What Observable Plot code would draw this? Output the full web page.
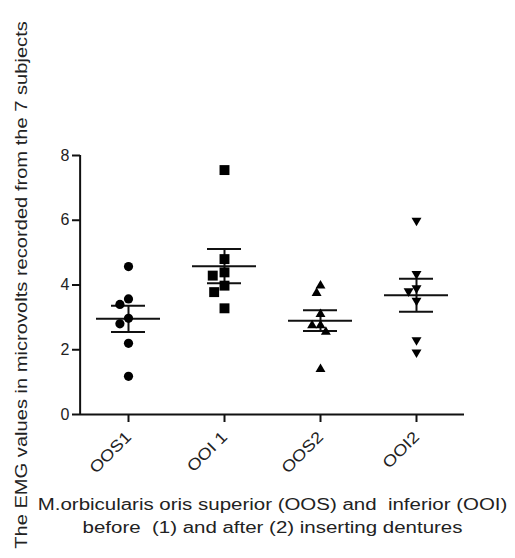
<!DOCTYPE html>
<html><head><meta charset="utf-8">
<script src="https://cdn.jsdelivr.net/npm/d3@7"></script>
<script src="https://cdn.jsdelivr.net/npm/@observablehq/plot@0.6"></script>
<style>html,body{margin:0;padding:0;background:#fff}</style>
</head><body><div id="chart"></div>
<script>
// ---- data ----
const groups = ["OOS1", "OOI 1", "OOS2", "OOI2"];
const oos1 = [4.57, 3.57, 3.40, 2.97, 2.80, 2.20, 1.18];
const ooi1 = [7.55, 4.80, 4.39, 4.29, 3.98, 3.78, 3.28];
const oos2 = [3.98, 3.75, 3.10, 2.75, 2.75, 2.55, 1.40];
const ooi2 = [5.99, 4.34, 3.90, 3.81, 3.52, 2.30, 1.92];
const yTicks = [0, 2, 4, 6, 8];
const yLabel = "The EMG values in microvolts recorded from the 7 subjects";
const xLabel = "M.orbicularis oris superior (OOS) and  inferior (OOI)\nbefore  (1) and after (2) inserting dentures";

const series = [oos1, ooi1, oos2, ooi2];
const stats = groups.map((g, i) => {
  const m = d3.mean(series[i]);
  const se = d3.deviation(series[i]) / Math.sqrt(series[i].length);
  return {group: g, mean: m, lo: m - se, hi: m + se};
});

const invTriangle = {
  draw(context, size) {
    const y = -Math.sqrt(size / (Math.sqrt(3) * 3));
    context.moveTo(0, -y * 2);
    context.lineTo(-Math.sqrt(3) * y, y);
    context.lineTo(Math.sqrt(3) * y, y);
    context.closePath();
  }
};
const symbols = ["circle", "square", "triangle", invTriangle];
const radii = [4.6, 5.6, 3.7, 3.7];

const W = 515, H = 558, mL = 78, mR = 50, mT = 155, mB = 144;
const band = (W - mL - mR) / groups.length;
const font = "'Liberation Sans', Arial, Helvetica, sans-serif";

const dots = groups.map((g, i) => Plot.dot(
  series[i].map(v => ({group: g, value: v})),
  Plot.dodgeX("middle", {fx: "group", y: "value", r: radii[i], symbol: symbols[i], fill: "#000", stroke: "none", padding: 1.5})
));

const chart = Plot.plot({
  width: W, height: H,
  marginLeft: mL, marginRight: mR, marginTop: mT, marginBottom: mB,
  style: {fontFamily: font, fontSize: "16px", color: "#111", background: "#fff"},
  fx: {domain: groups, padding: 0, label: null},
  y: {domain: [0, 8], label: null},
  marks: [
    Plot.axisY({ticks: yTicks, tickSize: 8, tickPadding: 3, strokeWidth: 2, fontSize: 16, fill: "#222", label: null}),
    Plot.axisFx({anchor: "bottom", tickRotate: -45, tickSize: 8, tickPadding: 12, strokeWidth: 2, fontSize: 16, fill: "#222", label: null}),
    Plot.ruleY([0], {strokeWidth: 2}),
    Plot.ruleX([groups[0]], {fx: d => d, x: null, y1: 0, y2: 8, dx: -band / 2, strokeWidth: 2}),
    Plot.ruleY(stats, {fx: "group", y: "mean", insetLeft: 16, insetRight: 16, strokeWidth: 2}),
    Plot.ruleY(stats, {fx: "group", y: "hi", insetLeft: 31, insetRight: 31, strokeWidth: 2}),
    Plot.ruleY(stats, {fx: "group", y: "lo", insetLeft: 31, insetRight: 31, strokeWidth: 2}),
    Plot.ruleX(stats, {fx: "group", x: null, y1: "lo", y2: "hi", strokeWidth: 2}),
    ...dots,
    Plot.text([yLabel], {fx: () => groups[0], x: null, y: null, text: d => d, frameAnchor: "left", rotate: -90, dx: -59, textAnchor: "middle", lineAnchor: "middle", fontSize: 16.5, fill: "#222"}),
    Plot.text([xLabel], {fx: () => groups[1], x: null, y: null, text: d => d, frameAnchor: "bottom-right", textAnchor: "middle", lineAnchor: "top", dy: 79, lineHeight: 1.44, fontSize: 16, fill: "#222"})
  ]
});
document.getElementById("chart").appendChild(chart);

// widen glyphs along their baseline, as in the reference
function widen(el, s) {
  const t = el.getAttribute("transform") || "";
  const x = +el.getAttribute("x") || 0, y = +el.getAttribute("y") || 0;
  el.setAttribute("transform", `${t} translate(${x},${y}) scale(${s},1) translate(${-x},${-y})`);
}
chart.querySelectorAll("text").forEach(el => {
  const s = el.textContent;
  if (s.startsWith("The EMG")) widen(el, 1.22);
  else if (s.startsWith("M.orbicularis")) widen(el, 1.28);
  else if (groups.includes(s)) widen(el, 1.15);
});
</script>
</body></html>
